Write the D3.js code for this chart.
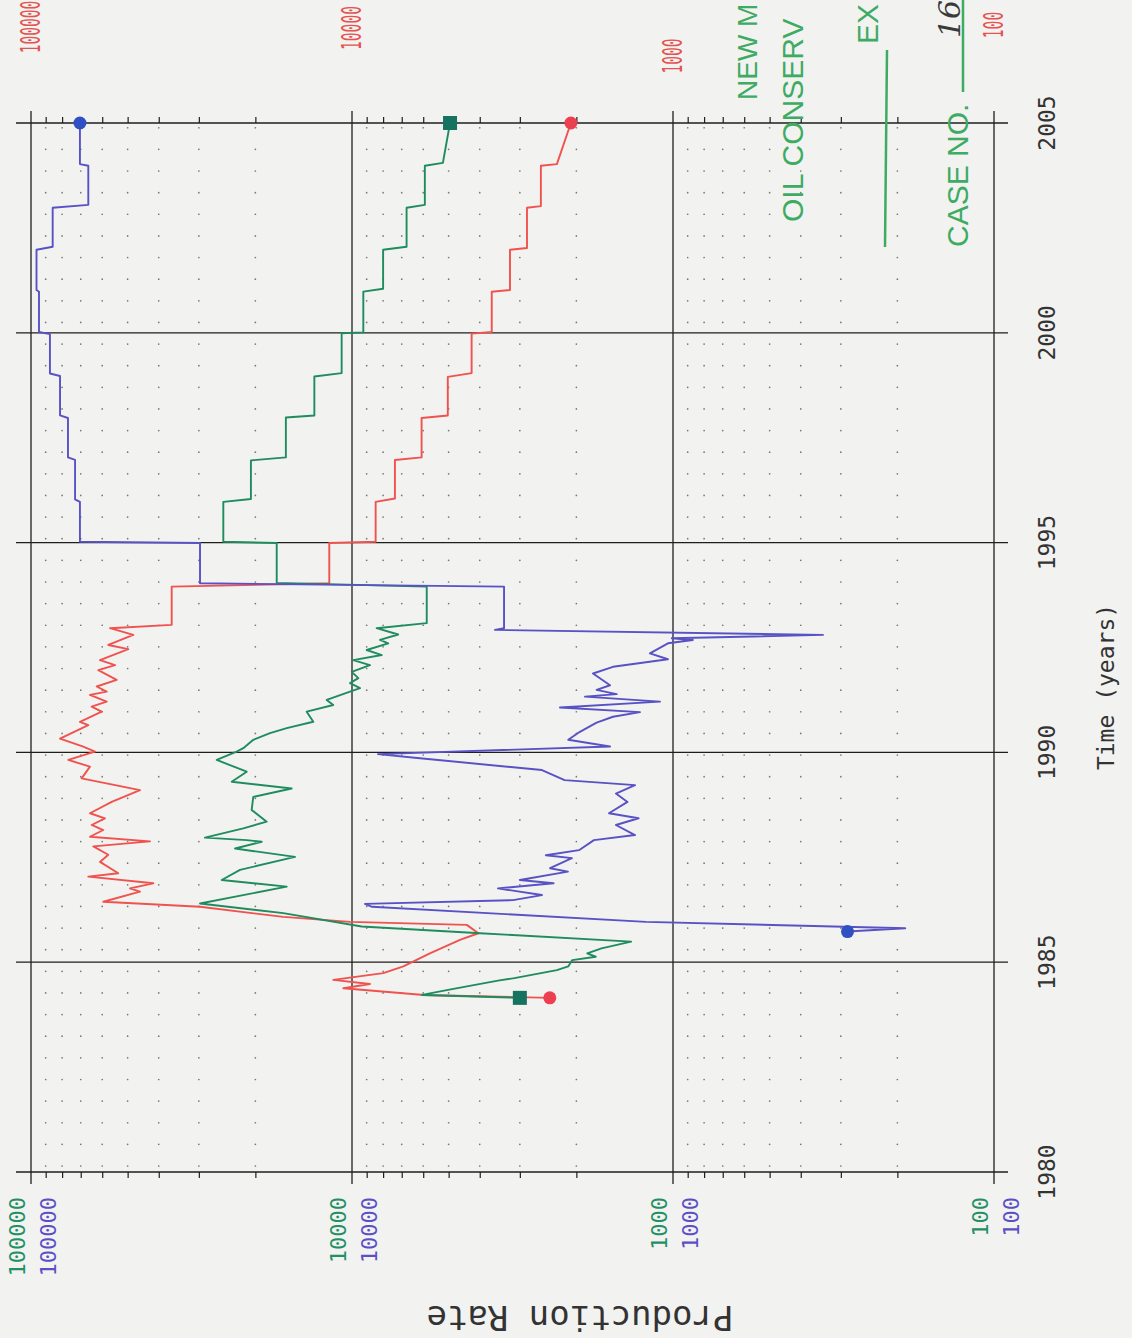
<!DOCTYPE html>
<html><head><meta charset="utf-8">
<script src="https://cdn.jsdelivr.net/npm/d3@7"></script>
<style>html,body{margin:0;padding:0;background:#f2f2f1}svg{display:block}</style>
</head><body>
<svg id="chart" width="1132" height="1338"></svg>
<script>
// ---------------- DATA ----------------
const rateTicks = [100000, 10000, 1000, 100];
const yearTicks = [1980, 1985, 1990, 1995, 2000, 2005];

// [year, rate]
const redSeries = [[1984.15,2420],[1984.22,5970],[1984.38,10640],[1984.48,8790],[1984.58,11440],[1984.74,7990],[1984.90,6920],[1985.21,5720],[1985.53,4610],[1985.69,4040],[1985.89,4390],[1985.96,10140],[1986.08,16370],[1986.32,29750],[1986.44,59540],[1986.68,45760],[1986.76,49160],[1986.88,41590],[1987.04,66300],[1987.12,53460],[1987.39,60960],[1987.56,57440],[1987.76,63960],[1987.88,42590],[1987.99,65510],[1988.15,59540],[1988.27,64720],[1988.43,58820],[1988.55,65510],[1988.82,56060],[1989.10,45760],[1989.38,69540],[1989.66,65510],[1989.82,76530],[1990.02,63190],[1990.14,68740],[1990.33,81220],[1990.65,66300],[1990.73,70390],[1990.97,60230],[1991.09,64720],[1991.21,58100],[1991.37,65510],[1991.45,58100],[1991.57,62420],[1991.73,54080],[1991.96,61710],[1992.08,54730],[1992.20,60960],[1992.46,49760],[1992.56,57440],[1992.80,48000],[1992.96,56740],[1993.04,36450],[1993.95,36450],[1994.03,11770],[1994.99,11770],[1995.02,8440],[1995.97,8440],[1996.05,7350],[1996.97,7350],[1997.03,6070],[1997.97,6070],[1998.03,5030],[1998.95,5030],[1999.04,4240],[1999.98,4240],[2000.02,3670],[2000.98,3670],[2001.02,3220],[2001.98,3220],[2002.02,2850],[2002.98,2850],[2003.02,2580],[2003.98,2580],[2004.02,2300],[2005.0,2080]];

const greenSeries = [[1984.15,3000],[1984.22,6050],[1984.34,5020],[1984.56,3510],[1984.62,3120],[1984.81,2300],[1984.90,2120],[1985.05,2060],[1985.13,1740],[1985.21,1850],[1985.33,1670],[1985.49,1350],[1985.69,3990],[1985.85,9330],[1986.17,16370],[1986.40,29750],[1986.80,15970],[1986.96,25460],[1987.20,22330],[1987.51,15050],[1987.71,23140],[1987.87,19110],[1987.91,21280],[1987.97,28710],[1988.19,21810],[1988.35,18440],[1988.63,20540],[1988.94,20300],[1989.14,15410],[1989.30,23700],[1989.54,21280],[1989.82,26390],[1990.02,22870],[1990.10,21810],[1990.30,20300],[1990.46,18010],[1990.58,15970],[1990.73,13200],[1990.97,13840],[1991.13,11440],[1991.25,11990],[1991.45,10140],[1991.53,9440],[1991.65,10140],[1991.77,9560],[1991.92,10020],[1992.08,8790],[1992.20,9910],[1992.32,8080],[1992.44,9000],[1992.60,7710],[1992.68,8180],[1992.81,7180],[1992.96,8380],[1993.08,5850],[1993.95,5850],[1994.04,17160],[1994.99,17160],[1995.02,25170],[1995.97,25170],[1996.04,20650],[1996.96,20650],[1997.03,16070],[1997.98,16070],[1998.03,13100],[1998.96,13100],[1999.04,10770],[1999.99,10770],[2000.01,9220],[2000.98,9220],[2001.05,8000],[2001.98,8000],[2002.05,6760],[2002.98,6760],[2003.05,5930],[2003.98,5930],[2004.05,5210],[2005.0,4950]];

const blueSeries = [[1985.73,286],[1985.81,189],[1985.96,1213],[1986.32,8660],[1986.39,9110],[1986.48,3150],[1986.60,2560],[1986.76,3510],[1986.88,2355],[1986.96,3000],[1987.16,2125],[1987.24,2415],[1987.48,2065],[1987.55,2490],[1987.67,1963],[1987.91,1763],[1988.03,1313],[1988.27,1506],[1988.43,1280],[1988.55,1583],[1988.82,1386],[1989.02,1506],[1989.22,1313],[1989.34,2176],[1989.58,2560],[1989.86,6140],[1989.96,8300],[1990.14,1571],[1990.30,2120],[1990.49,1950],[1990.71,1730],[1990.85,1538],[1990.96,1267],[1991.07,2250],[1991.21,1098],[1991.33,1880],[1991.39,1498],[1991.49,1730],[1991.60,1571],[1991.88,1775],[1992.04,1538],[1992.22,1037],[1992.36,1180],[1992.60,1037],[1992.68,867],[1992.72,1009],[1992.80,341],[1992.92,3585],[1992.96,3360],[1993.95,3360],[1994.03,29750],[1994.99,29750],[1995.02,70400],[1995.97,70400],[1996.03,72900],[1996.97,72900],[1997.03,76700],[1997.97,76700],[1998.03,81200],[1998.97,81200],[1999.03,87300],[1999.97,87300],[2000.02,94430],[2000.98,94430],[2001.02,96130],[2001.98,96130],[2002.05,85600],[2002.98,85600],[2003.05,66300],[2003.98,66300],[2004.02,70400],[2005.0,70400]];

// visible parts of the exhibit stamp (cut by the page edge in the scan)
const stampTexts = ["NEW M", "OIL CONSERV", "EX", "CASE NO."];
const handNote = "16";
const xTitle = "Time (years)";
const yTitle = "Production Rate";

// ---------------- SCALES ----------------
const svg = d3.select("#chart");
const ty = d3.scaleLinear().domain([1980, 2005]).range([1172, 123]);   // time -> screen y
const rx = d3.scaleLog().domain([100000, 100]).range([31, 994]);      // rate -> screen x
const mono = "'DejaVu Sans Mono', monospace";

svg.append("rect").attr("width", 1132).attr("height", 1338).attr("fill", "#f2f2f1");

const minorVals = rx.ticks().filter(v => Math.abs(Math.log10(v) - Math.round(Math.log10(v))) > 1e-6);

// dotted grid
const dotRows = d3.range(0, 49).map(k => 1980.143 + k * 0.5155);
const gDots = svg.append("g").attr("fill", "#777");
minorVals.forEach(v => {
  dotRows.forEach(t => {
    gDots.append("circle").attr("cx", rx(v)).attr("cy", ty(t)).attr("r", 0.85);
  });
});

// major grid
const gGrid = svg.append("g").attr("stroke", "#1e1e1e").attr("stroke-width", 1.3);
rateTicks.forEach(v => {
  gGrid.append("line").attr("x1", rx(v)).attr("x2", rx(v))
    .attr("y1", ty(2005) - 12).attr("y2", ty(1980) + 12);
});
yearTicks.forEach(y => {
  gGrid.append("line").attr("x1", rx(100000) - 15).attr("x2", rx(100) + 14)
    .attr("y1", ty(y)).attr("y2", ty(y));
});

// minor ticks on top (2005) and bottom (1980) edges
const topAxis = d3.axisTop(rx).tickValues(minorVals).tickSize(6).tickFormat("");
const botAxis = d3.axisBottom(rx).tickValues(minorVals).tickSize(6).tickFormat("");
[svg.append("g").attr("transform", `translate(0,${ty(2005)})`).call(topAxis),
 svg.append("g").attr("transform", `translate(0,${ty(1980)})`).call(botAxis)].forEach(g => {
  g.select(".domain").remove();
  g.selectAll("line").attr("stroke", "#1e1e1e").attr("stroke-width", 1.2);
});

// ---------------- SERIES ----------------
const line = d3.line().x(d => rx(d[1])).y(d => ty(d[0]));
const series = [
  {data: redSeries, color: "#f0524e", mark: "#ec4050", shape: "circle"},
  {data: greenSeries, color: "#1f8c5e", mark: "#15735f", shape: "square"},
  {data: blueSeries, color: "#5852c4", mark: "#2f50c2", shape: "circle"}
];
series.forEach(s => {
  svg.append("path").datum(s.data).attr("d", line)
    .attr("fill", "none").attr("stroke", s.color).attr("stroke-width", 1.9)
    .attr("stroke-linejoin", "round");
});
series.forEach(s => {
  const ends = [s.data[0], s.data[s.data.length - 1]];
  ends.forEach(d => {
    if (s.shape === "circle") {
      svg.append("circle").attr("cx", rx(d[1])).attr("cy", ty(d[0])).attr("r", 6.5).attr("fill", s.mark);
    } else {
      svg.append("rect").attr("x", rx(d[1]) - 7).attr("y", ty(d[0]) - 7)
        .attr("width", 14).attr("height", 14).attr("fill", s.mark);
    }
  });
});

// ---------------- LABELS ----------------
const fmt = d3.format("d");
// red labels at top (condensed plotter font)
const redLabelY = [27, 28, 56, 25];
rateTicks.forEach((v, i) => {
  svg.append("text").attr("transform", `translate(${rx(v)},${redLabelY[i]}) rotate(-90) scale(0.56,1)`)
    .attr("text-anchor", "middle").attr("dy", "0.36em")
    .attr("font-family", mono).attr("font-size", 26).attr("fill", "#e4534f").text(fmt(v));
});
// green and blue labels at bottom
rateTicks.forEach(v => {
  svg.append("text").attr("transform", `translate(${rx(v) - 14},1197) rotate(-90)`)
    .attr("text-anchor", "end").attr("dy", "0.36em")
    .attr("font-family", mono).attr("font-size", 22).attr("fill", "#229063").text(fmt(v));
  svg.append("text").attr("transform", `translate(${rx(v) + 17},1197) rotate(-90)`)
    .attr("text-anchor", "end").attr("dy", "0.36em")
    .attr("font-family", mono).attr("font-size", 22).attr("fill", "#5c4fc6").text(fmt(v));
});
// time labels
yearTicks.forEach(y => {
  svg.append("text").attr("transform", `translate(1047,${ty(y)}) rotate(-90)`)
    .attr("text-anchor", "middle").attr("dy", "0.36em")
    .attr("font-family", mono).attr("font-size", 23).attr("fill", "#333").text(y);
});
// axis titles
svg.append("text").attr("transform", "translate(1114,687) rotate(-90)")
  .attr("text-anchor", "middle").attr("font-family", mono).attr("font-size", 23)
  .attr("fill", "#333").text(xTitle);
svg.append("text").attr("transform", "translate(580,1306) rotate(180)")
  .attr("text-anchor", "middle").attr("font-family", mono).attr("font-size", 34)
  .attr("fill", "#333").text(yTitle);

// ---------------- STAMP ----------------
const stampColor = "#3eab63";
const stampPos = [[757, 100], [803, 222], [878, 44], [968, 247]];
const stampSize = [28, 30, 30, 30];
stampTexts.forEach((s, i) => {
  svg.append("text").attr("transform", `translate(${stampPos[i][0]},${stampPos[i][1]}) rotate(-90)`)
    .attr("font-family", "'Liberation Sans', Arial, sans-serif").attr("font-size", stampSize[i])
    .attr("fill", stampColor).text(s);
});
svg.append("line").attr("x1", 885).attr("x2", 887).attr("y1", 247).attr("y2", 50)
  .attr("stroke", stampColor).attr("stroke-width", 2.5);
svg.append("line").attr("x1", 963).attr("x2", 963).attr("y1", 92).attr("y2", 0)
  .attr("stroke", stampColor).attr("stroke-width", 2.5);
svg.append("text").attr("transform", "translate(960,38) rotate(-90)")
  .attr("font-family", "'DejaVu Serif', serif").attr("font-style", "italic").attr("font-size", 30)
  .attr("fill", "#3a3a3a").text(handNote);
</script>
</body></html>
